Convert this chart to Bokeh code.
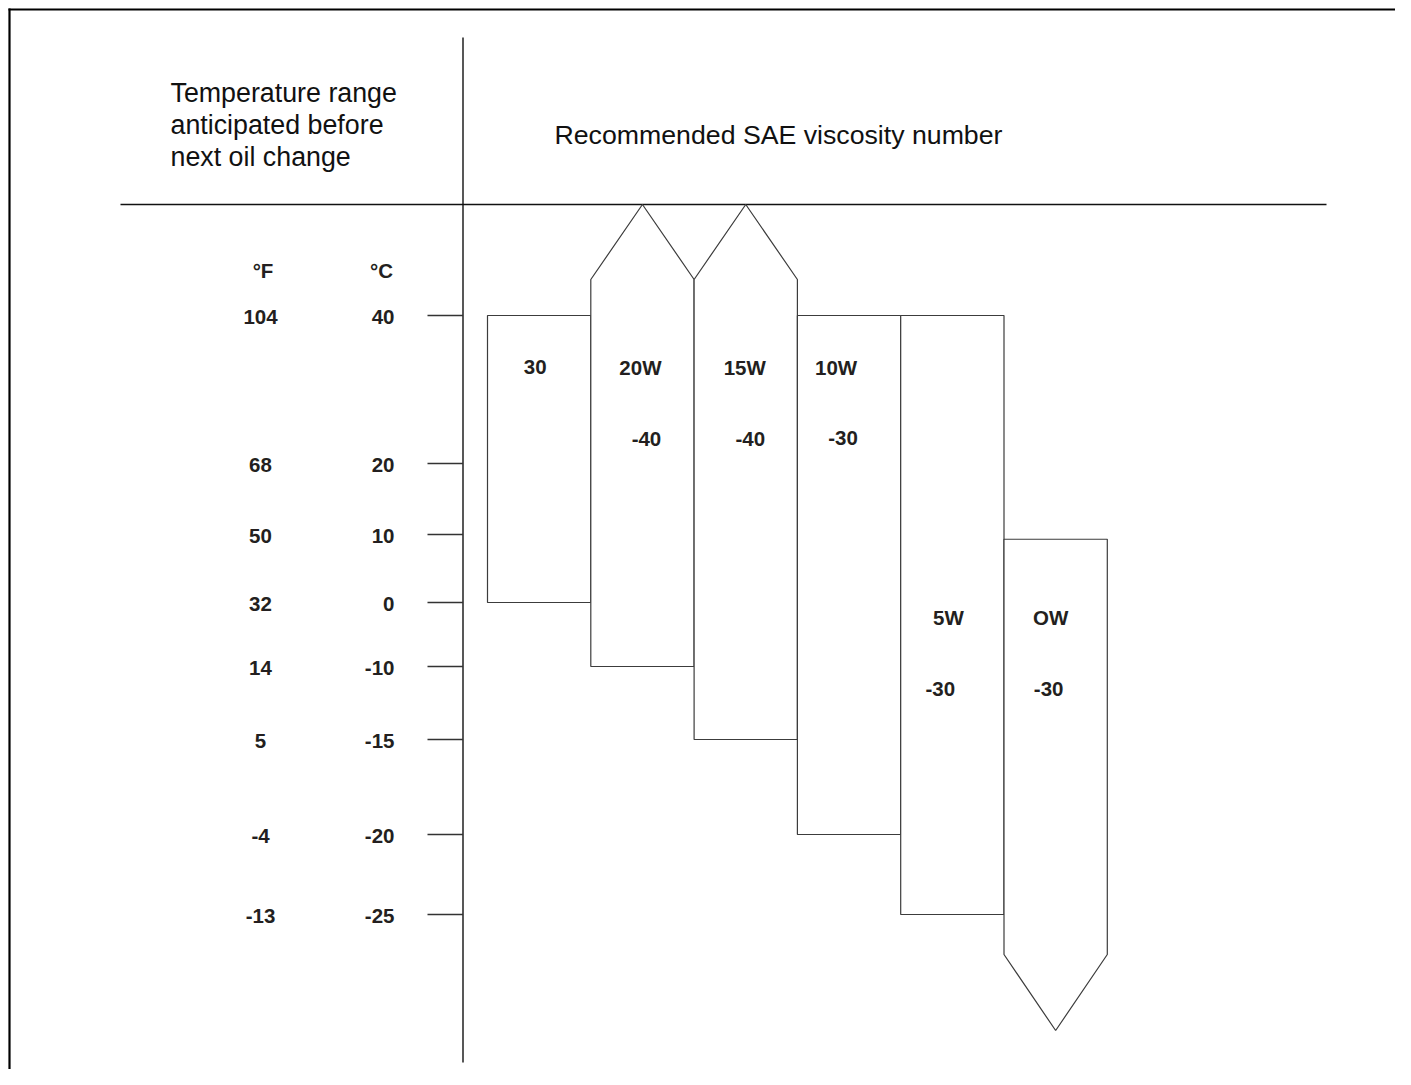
import numpy as np
from bokeh.plotting import figure
from bokeh.models import Range1d
from bokeh.core.properties import value
from bokeh.embed import file_html
from bokeh.resources import INLINE

# ---------------- data ----------------
grades = ["30", "20W", "15W", "10W", "5W", "OW"]
low_c = [0, -10, -15, -20, -25, None]      # None -> open ended (arrow, colder)
high_c = [40, None, None, 40, 40, 9.3]     # None -> open ended (arrow, hotter)
limit_text = ["", "-40", "-40", "-30", "-30", "-30"]
scale_c = [40, 20, 10, 0, -10, -15, -20, -25]
scale_f = [104, 68, 50, 32, 14, 5, -4, -13]
unit_labels = ["°F", "°C"]
header_left = ["Temperature range", "anticipated before", "next oil change"]
header_right = ["Recommended SAE viscosity number"]

# ---------------- layout (pixels) ----------------
W, H = 1395, 1069
SCALE_Y = [315, 463, 534, 602, 666, 739, 834, 914]   # drawn scale is not linear
COL_X0, COL_W = 487, 103.3
HEAD_Y = 204
AXIS_X, AXIS_TOP, AXIS_BOT = 462.5, 37, 1062
TICK_X0 = 427
UP_SHOULDER = 36
DOWN_SHOULDER, DOWN_APEX = 40, 116
GRADE_DX = [-4, -2, -1, -13, -4, -5]
LIMIT_DX = [0, 4, 4.5, -6, -12, -7]
TDY = -8.5  # text baseline correction
GRADE_BASE = [375 + TDY] * 4 + [625 + TDY] * 2
LIMIT_BASE = [447 + TDY] * 3 + [446 + TDY] + [697 + TDY] * 2

FONT = value("Liberation Sans")
INK = "#231f20"

_t = np.array(scale_c[::-1], dtype=float)
_y = np.array(SCALE_Y[::-1], dtype=float)


def ty(t):
    return float(np.interp(t, _t, _y))


p = figure(width=W, height=H, x_range=Range1d(0, W), y_range=Range1d(H, 0),
           output_backend="svg", toolbar_location=None, min_border=0,
           x_axis_location=None, y_axis_location=None)
p.grid.visible = False
p.outline_line_color = None
p.background_fill_color = "white"
p.border_fill_color = "white"

# frame border (left & top visible)
p.multi_line(xs=[[9, 9], [8, W + 20]], ys=[[8, H + 20], [9, 9]], line_color="black", line_width=2.2)

# header rule and scale axis
p.multi_line(xs=[[120, 1326], [AXIS_X, AXIS_X]], ys=[[HEAD_Y, HEAD_Y], [AXIS_TOP, AXIS_BOT]],
             line_color="#111111", line_width=1.4)

# tick marks
tick_y = [ty(c) for c in scale_c]
p.segment(x0=[TICK_X0] * len(tick_y), y0=tick_y, x1=[AXIS_X] * len(tick_y), y1=tick_y,
          line_color="#333333", line_width=1.3)

# columns
xs, ys = [], []
top40 = ty(40)
botm25 = ty(-25)
for i, (lo, hi) in enumerate(zip(low_c, high_c)):
    l = COL_X0 + i * COL_W
    r = l + COL_W
    m = (l + r) / 2
    if hi is None:
        top = [(l, top40 - UP_SHOULDER), (m, HEAD_Y), (r, top40 - UP_SHOULDER)]
    else:
        top = [(l, ty(hi)), (r, ty(hi))]
    if lo is None:
        bot = [(r, botm25 + DOWN_SHOULDER), (m, botm25 + DOWN_APEX), (l, botm25 + DOWN_SHOULDER)]
    else:
        bot = [(r, ty(lo)), (l, ty(lo))]
    pts = top + bot
    xs.append([q[0] for q in pts])
    ys.append([q[1] for q in pts])
p.patches(xs, ys, fill_color="white", line_color="#3c3c3c", line_width=1.2)

centers = [COL_X0 + (i + 0.5) * COL_W for i in range(len(grades))]

# grade labels
p.text(x=[c + d for c, d in zip(centers, GRADE_DX)], y=GRADE_BASE, text=grades,
       text_font=FONT, text_font_style="bold", text_font_size="20.5px",
       text_align="center", text_baseline="alphabetic", text_color=INK)
lim_idx = [i for i, s in enumerate(limit_text) if s]
p.text(x=[centers[i] + LIMIT_DX[i] for i in lim_idx], y=[LIMIT_BASE[i] for i in lim_idx],
       text=[limit_text[i] for i in lim_idx],
       text_font=FONT, text_font_style="bold", text_font_size="20.5px",
       text_align="center", text_baseline="alphabetic", text_color=INK)

# scale labels
p.text(x=[260] * len(scale_f), y=[y + 9.5 + TDY for y in tick_y], text=[str(v) for v in scale_f],
       text_font=FONT, text_font_style="bold", text_font_size="20.5px",
       text_align="center", text_baseline="alphabetic", text_color=INK)
p.text(x=[394] * len(scale_c), y=[y + 9.5 + TDY for y in tick_y], text=[str(v) for v in scale_c],
       text_font=FONT, text_font_style="bold", text_font_size="20.5px",
       text_align="right", text_baseline="alphabetic", text_color=INK)
p.text(x=[262.5, 381], y=[278 + TDY] * 2, text=unit_labels,
       text_font=FONT, text_font_style="bold", text_font_size="20.5px",
       text_align="center", text_baseline="alphabetic", text_color=INK)

# headers
p.text(x=[170] * 3, y=[101 + TDY, 133 + TDY, 165 + TDY], text=header_left,
       text_font=FONT, text_font_size="26.8px", text_align="left",
       text_baseline="alphabetic", text_color="#111111")
p.text(x=[554], y=[143 + TDY], text=header_right,
       text_font=FONT, text_font_size="26.7px", text_align="left",
       text_baseline="alphabetic", text_color="#111111")

open("out.html", "w").write(file_html(p, INLINE))
